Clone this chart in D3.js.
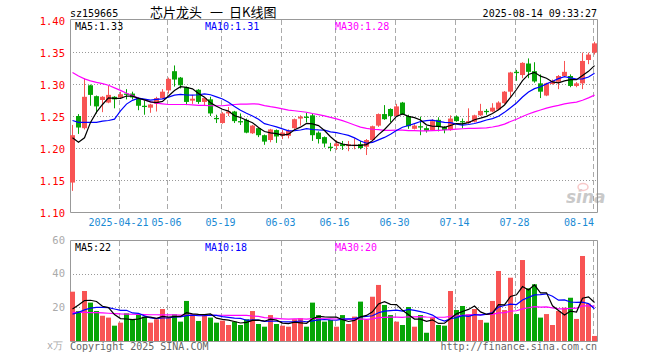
<!DOCTYPE html>
<html><head><meta charset="utf-8">
<script src="https://cdn.jsdelivr.net/npm/d3@7/dist/d3.min.js"></script>
<style>body{margin:0;background:#fff} svg{display:block} text{font-family:"DejaVu Sans Mono",monospace;}</style>
</head><body><svg id="c" width="660" height="360"></svg>
<script>
const dates = ["04-09","04-10","04-11","04-14","04-15","04-16","04-17","04-18","04-21","04-22","04-23","04-24","04-25","04-28","04-29","04-30",
"05-06","05-07","05-08","05-09","05-12","05-13","05-14","05-15","05-16","05-19","05-20","05-21","05-22","05-23","05-26","05-27","05-28","05-29","05-30",
"06-03","06-04","06-05","06-06","06-09","06-10","06-11","06-12","06-13","06-16","06-17","06-18","06-19","06-20","06-23","06-24","06-25","06-26","06-27","06-30",
"07-01","07-02","07-03","07-04","07-07","07-08","07-09","07-10","07-11","07-14","07-15","07-16","07-17","07-18","07-21","07-22","07-23","07-24","07-25","07-28","07-29","07-30","07-31",
"08-01","08-04","08-05","08-06","08-07","08-08","08-11","08-12","08-13","08-14"];

const opens = [1.146,1.250,1.231,1.298,1.281,1.275,1.271,1.280,1.279,1.285,1.285,1.278,1.266,1.263,1.269,1.278,1.290,1.320,1.310,1.295,
1.274,1.291,1.272,1.276,1.247,1.239,1.254,1.257,1.242,1.244,1.223,1.231,1.220,1.2125,1.228,1.219,1.219,1.231,1.246,1.249,
1.251,1.224,1.217,1.202,1.203,1.206,1.203,1.203,1.206,1.202,1.2125,1.235,1.253,1.261,1.250,1.271,1.250,1.230,1.234,1.231,
1.228,1.244,1.233,1.228,1.249,1.242,1.239,1.241,1.251,1.258,1.257,1.260,1.270,1.288,1.319,1.314,1.332,1.320,1.301,1.282,
1.300,1.3035,1.3125,1.3125,1.297,1.301,1.3375,1.349];
const closes = [1.220,1.232,1.280,1.283,1.265,1.280,1.283,1.276,1.284,1.283,1.279,1.266,1.264,1.268,1.278,1.288,1.308,1.307,1.298,1.272,
1.277,1.272,1.278,1.254,1.245,1.254,1.257,1.242,1.240,1.224,1.235,1.220,1.210,1.229,1.218,1.224,1.227,1.245,1.249,1.247,
1.220,1.214,1.207,1.200,1.207,1.203,1.206,1.205,1.200,1.2125,1.234,1.253,1.245,1.250,1.265,1.253,1.234,1.235,1.232,1.227,
1.242,1.233,1.228,1.246,1.242,1.240,1.242,1.251,1.258,1.256,1.263,1.271,1.288,1.318,1.317,1.333,1.319,1.304,1.288,1.301,
1.304,1.3125,1.319,1.297,1.301,1.336,1.346,1.3635];
const highs = [1.236,1.253,1.309,1.299,1.282,1.281,1.297,1.281,1.288,1.292,1.288,1.279,1.275,1.269,1.280,1.292,1.310,1.329,1.311,1.296,
1.283,1.292,1.279,1.280,1.252,1.256,1.264,1.258,1.254,1.246,1.236,1.232,1.221,1.230,1.229,1.228,1.229,1.246,1.251,1.255,
1.254,1.226,1.218,1.208,1.212,1.211,1.211,1.215,1.211,1.214,1.235,1.254,1.267,1.262,1.269,1.272,1.252,1.237,1.249,1.234,
1.245,1.248,1.234,1.251,1.251,1.246,1.262,1.252,1.269,1.261,1.270,1.273,1.289,1.319,1.322,1.334,1.340,1.334,1.315,1.302,
1.307,1.314,1.336,1.315,1.303,1.349,1.349,1.366];
const lows = [1.133,1.222,1.229,1.266,1.254,1.256,1.270,1.262,1.278,1.276,1.276,1.259,1.252,1.255,1.257,1.277,1.285,1.296,1.293,1.267,
1.269,1.269,1.266,1.250,1.239,1.238,1.250,1.239,1.236,1.223,1.222,1.217,1.205,1.209,1.208,1.214,1.215,1.230,1.235,1.240,
1.211,1.207,1.201,1.195,1.197,1.197,1.195,1.198,1.198,1.189,1.210,1.233,1.244,1.240,1.249,1.252,1.230,1.229,1.220,1.224,
1.227,1.226,1.223,1.227,1.241,1.231,1.238,1.240,1.250,1.252,1.256,1.259,1.269,1.280,1.305,1.309,1.309,1.302,1.278,1.281,
1.299,1.292,1.311,1.295,1.295,1.292,1.331,1.346];
const volumes = [29.3,17.8,29.7,22.8,17.8,15.0,13.9,9.1,10.9,16.4,13.1,15.8,14.5,10.9,12.9,19.0,13.9,15.8,11.5,23.8,
15.8,11.9,15.4,13.9,10.9,12.1,9.5,11.5,9.5,12.9,17.8,10.1,8.5,15.4,10.1,9.1,8.5,12.9,13.5,8.5,
22.8,15.4,11.5,12.5,8.5,15.4,10.1,14.5,23.4,12.5,26.3,33.3,21.4,15.4,11.5,9.5,20.2,8.5,15.4,4.9,
13.9,9.5,9.1,29.7,18.4,20.8,15.8,19.0,12.5,10.9,23.8,41.6,18.4,37.6,16.0,48.1,31.3,33.7,13.9,16.0,
9.5,17.8,19.8,25.7,13.1,50.5,22.2,3.0];

const ma5Lead = [1.216,1.209,1.216,1.240];
const ma10Lead = [1.243,1.240,1.240,1.240,1.240,1.242,1.243,1.245,1.258];
const ma30Lead = [1.318,1.3125,1.308,1.305,1.3026,1.3005,1.298,1.294,1.290,1.2855,1.282,1.278,1.275,1.272,1.270,1.269,1.268,1.268,1.268,1.268,1.2675,1.2667,1.2665,1.266,1.266,1.266,1.267,1.268,1.2685];
const vma5Lead = [19,21.4,24,24.2];
const vma10Lead = [16,17,18.5,19.5,20,20,19.8,19,18.2];
const vma30Lead = [17,17,17,16.9,16.8,16.7,16.5,16.3,16.1,16.0,15.9,15.8,15.7,15.6,15.6,15.5,15.5,15.5,15.4,15.4,15.4,15.4,15.3,15.3,15.3,15.3,15.2,15.2,15.2];

const priceTicks = [1.10,1.15,1.20,1.25,1.30,1.35,1.40];
const volTicks = [20,40,60];
const tickDates = ["04-21","05-06","05-19","06-03","06-16","06-30","07-14","07-28","08-14"];
const tickLabels = ["2025-04-21","05-06","05-19","06-03","06-16","06-30","07-14","07-28","08-14"];
const legPText = ["MA5:1.33", "MA10:1.31", "MA30:1.28"];
const legVText = ["MA5:22", "MA10:18", "MA30:20"];

const RED = "#f85454", GREEN = "#06a506";
const svg = d3.select("#c");
const L = 70, R = 597;
const x = d3.scalePoint().domain(dates).range([72.5, 594.5]);
const y = d3.scaleLinear().domain([1.10, 1.40]).range([212, 20]);
const yv = d3.scaleLinear().domain([0, 60]).range([341, 240]);

function rolling(arr, n, lead) {
  return arr.map((v, i) => i < lead.length ? lead[i] : d3.mean(arr.slice(i - n + 1, i + 1)));
}
const ma5 = rolling(closes, 5, ma5Lead), ma10 = rolling(closes, 10, ma10Lead), ma30 = rolling(closes, 30, ma30Lead);
const vma5 = rolling(volumes, 5, vma5Lead), vma10 = rolling(volumes, 10, vma10Lead), vma30 = rolling(volumes, 30, vma30Lead);

// grid
const g = svg.append("g");
priceTicks.filter(t => t > 1.101 && t < 1.399).forEach(t => {
  g.append("line").attr("x1", L).attr("x2", R).attr("y1", Math.round(y(t)) + 0.5).attr("y2", Math.round(y(t)) + 0.5)
    .attr("stroke", "#999").attr("stroke-dasharray", "1,2");
});
volTicks.filter(t => t < 60).forEach(t => {
  g.append("line").attr("x1", L).attr("x2", R).attr("y1", Math.round(yv(t)) + 0.5).attr("y2", Math.round(yv(t)) + 0.5)
    .attr("stroke", "#999").attr("stroke-dasharray", "1,2");
});
tickDates.forEach(d => {
  const gx = Math.round(x(d) - 2) + 0.5;
  [[20, 212], [241, 341]].forEach(([a, b]) => {
    g.append("line").attr("x1", gx).attr("x2", gx).attr("y1", a).attr("y2", b)
      .attr("stroke", "#aaa").attr("stroke-dasharray", "5,3");
  });
});

// frames
[[19.5, 212.5], [240.5, 341.5]].forEach(([a, b]) => {
  svg.append("path").attr("d", `M${L + 0.5},${a}H${R + 0.5}V${b}M${L + 0.5},${a}V${b}H${R + 0.5}`)
    .attr("fill", "none").attr("stroke", "#999").attr("stroke-width", 1);
});

// candles and volume bars
const cg = svg.append("g");
dates.forEach((d, i) => {
  const up = closes[i] >= opens[i];
  const col = up ? RED : GREEN;
  const cx = x(d);
  cg.append("line").attr("x1", cx).attr("x2", cx).attr("y1", y(highs[i])).attr("y2", y(lows[i]))
    .attr("stroke", col).attr("stroke-width", 1);
  const top = y(Math.max(opens[i], closes[i])), bot = y(Math.min(opens[i], closes[i]));
  cg.append("rect").attr("x", cx - 2.5).attr("width", 5).attr("y", top).attr("height", Math.max(1, bot - top))
    .attr("fill", col);
  cg.append("rect").attr("x", cx - 2.5).attr("width", 5).attr("y", yv(volumes[i])).attr("height", yv(0) - yv(volumes[i]))
    .attr("fill", col);
});

// MA lines
const lineP = d3.line().x((v, i) => x(dates[i])).y(v => y(v));
const lineV = d3.line().x((v, i) => x(dates[i])).y(v => yv(v));
[[ma30, "#ff00ff"], [ma10, "#0000ff"], [ma5, "#000"]].forEach(([s, c]) => {
  svg.append("path").attr("d", lineP(s)).attr("fill", "none").attr("stroke", c).attr("stroke-width", 1.2);
});
[[vma30, "#ff00ff"], [vma10, "#0000ff"], [vma5, "#000"]].forEach(([s, c]) => {
  svg.append("path").attr("d", lineV(s)).attr("fill", "none").attr("stroke", c).attr("stroke-width", 1.2);
});

// axis labels
priceTicks.forEach(t => {
  svg.append("text").attr("x", 65).attr("y", y(t) + 1).attr("dy", "0.35em").attr("text-anchor", "end")
    .attr("font-size", 10.5).attr("fill", "#ff0000").text(t.toFixed(2));
});
volTicks.forEach(t => {
  svg.append("text").attr("x", 65).attr("y", yv(t)).attr("dy", "0.35em").attr("text-anchor", "end")
    .attr("font-size", 10.5).attr("fill", "#aaa").text(t);
});
svg.append("text").attr("x", 63).attr("y", 345).attr("dy", "0.35em").attr("text-anchor", "end")
  .attr("font-size", 10).attr("fill", "#aaa").text("x万");
tickDates.forEach((d, i) => {
  const gx = x(d) - 2;
  const t = svg.append("text").attr("y", 222).attr("dy", "0.35em").attr("font-size", 10).attr("fill", "#1a8ad4").text(tickLabels[i]);
  const w = tickLabels[i].length * 6.02;
  if (gx + w / 2 > R) t.attr("x", R - 3).attr("text-anchor", "end");
  else t.attr("x", gx).attr("text-anchor", "middle");
});

// header
svg.append("text").attr("x", 70).attr("y", 13).attr("dy", "0.35em").attr("font-size", 10).attr("fill", "#000").text("sz159665");
const title = svg.append("text").attr("y", 12).attr("dy", "0.35em").attr("font-size", 13)
  .style("font-family", "'Noto Sans CJK SC',sans-serif").attr("fill", "#000");
title.append("tspan").attr("x", 150).text("芯片龙头");
title.append("tspan").attr("x", 210).text("一");
title.append("tspan").attr("x", 229).text("日K线图");
svg.append("text").attr("x", 597).attr("y", 13).attr("dy", "0.35em").attr("text-anchor", "end").attr("font-size", 10).attr("fill", "#000").text("2025-08-14 09:33:27");

const legCol = ["#000", "#0000ff", "#ff00ff"], legX = [75, 205, 335];
legPText.forEach((t, i) => svg.append("text").attr("x", legX[i]).attr("y", 26).attr("dy", "0.35em").attr("font-size", 10).attr("fill", legCol[i]).text(t));
legVText.forEach((t, i) => svg.append("text").attr("x", legX[i]).attr("y", 247).attr("dy", "0.35em").attr("font-size", 10).attr("fill", legCol[i]).text(t));

svg.append("text").attr("x", 70).attr("y", 346).attr("dy", "0.35em").attr("font-size", 10).attr("fill", "#666").text("Copyright 2025 SINA.COM");
svg.append("text").attr("x", 597).attr("y", 346).attr("dy", "0.35em").attr("text-anchor", "end").attr("font-size", 10).attr("fill", "#666").text("http://finance.sina.com.cn");

// watermark
const wm = svg.append("g").attr("opacity", 0.45);
wm.append("text").attr("x", 566).attr("y", 203).attr("font-size", 17).attr("font-weight", "bold").attr("font-style", "italic")
  .style("font-family", "'DejaVu Sans',sans-serif").attr("fill", "#888").text("sina");
wm.append("ellipse").attr("cx", 583).attr("cy", 187).attr("rx", 5).attr("ry", 3.5).attr("fill", "none").attr("stroke", "#e88").attr("stroke-width", 1.5);
</script></body></html>
